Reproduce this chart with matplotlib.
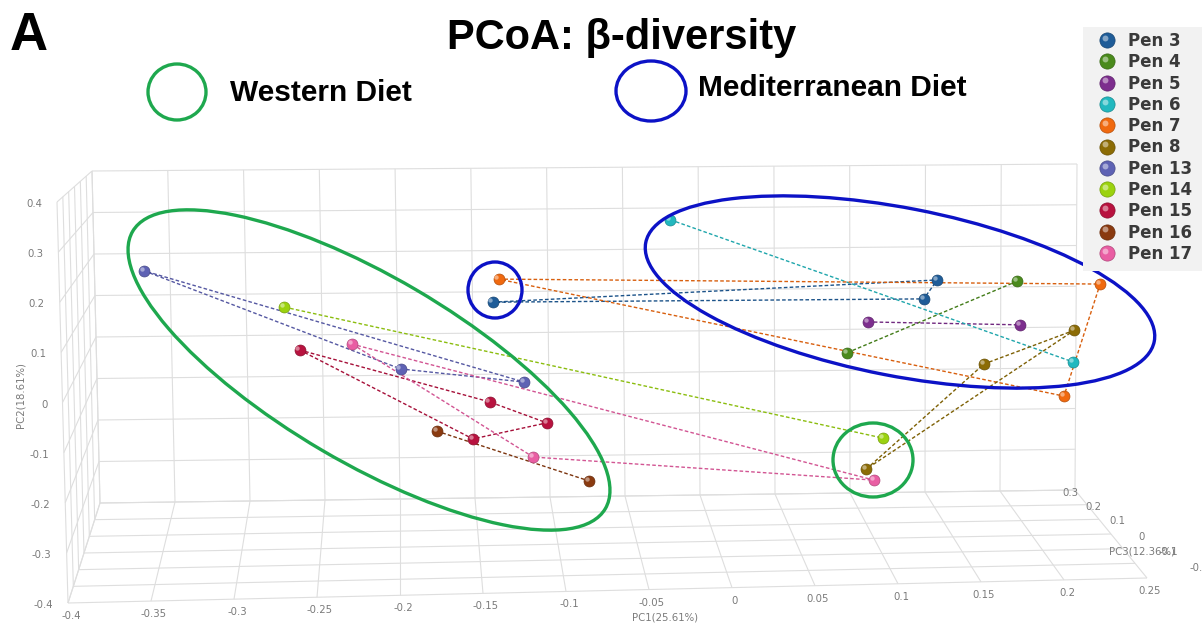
import numpy as np
import matplotlib
matplotlib.use("Agg")
import matplotlib.pyplot as plt
import matplotlib.colors as mcolors
from matplotlib.patches import Ellipse, Rectangle
from matplotlib.transforms import Affine2D, ScaledTranslation

W, H = 1202, 627

# ---- data -------------------------------------------------------------
pen_names = ["Pen 3", "Pen 4", "Pen 5", "Pen 6", "Pen 7", "Pen 8",
             "Pen 13", "Pen 14", "Pen 15", "Pen 16", "Pen 17"]
pen_colors = ["#1f5c98", "#4a8a1c", "#7d2e8e", "#22b8bf", "#f0690f", "#8c6c05",
              "#5e62b4", "#9bd20f", "#b8123f", "#8a3a10", "#e95ea3"]

# one entry per sample (order inside a pen = path order)
sample_pen = ["Pen 3", "Pen 3", "Pen 3",
              "Pen 4", "Pen 4",
              "Pen 5", "Pen 5",
              "Pen 6", "Pen 6",
              "Pen 7", "Pen 7", "Pen 7",
              "Pen 8", "Pen 8", "Pen 8",
              "Pen 13", "Pen 13", "Pen 13",
              "Pen 14", "Pen 14",
              "Pen 15", "Pen 15", "Pen 15", "Pen 15",
              "Pen 16", "Pen 16",
              "Pen 17", "Pen 17", "Pen 17"]
sample_pc1 = [-0.137, 0.158, 0.149,
              0.211, 0.098,
              0.112, 0.213,
              -0.019, 0.248,
              -0.133, 0.266, 0.242,
              0.249, 0.189, 0.111,
              -0.368, -0.198, -0.116,
              -0.275, 0.122,
              -0.265, -0.139, -0.101, -0.150,
              -0.174, -0.073,
              -0.230, -0.110, 0.116]
sample_pc2 = [0.073, 0.127, 0.081,
              0.124, -0.050,
              0.025, 0.018,
              0.273, -0.072,
              0.129, 0.117, -0.155,
              0.005, -0.077, -0.332,
              0.149, -0.089, -0.121,
              0.061, -0.257,
              -0.043, -0.169, -0.220, -0.259,
              -0.240, -0.361,
              -0.029, -0.303, -0.359]

pc1_ticks = [-0.4, -0.35, -0.3, -0.25, -0.2, -0.15, -0.1, -0.05, 0, 0.05, 0.1, 0.15, 0.2, 0.25]
pc1_labels = ["-0.4", "-0.35", "-0.3", "-0.25", "-0.2", "-0.15", "-0.1", "-0.05",
              "0", "0.05", "0.1", "0.15", "0.2", "0.25"]
pc2_ticks = [0.4, 0.3, 0.2, 0.1, 0, -0.1, -0.2, -0.3, -0.4]
pc2_labels = ["0.4", "0.3", "0.2", "0.1", "0", "-0.1", "-0.2", "-0.3", "-0.4"]
pc3_ticks = [0.3, 0.2, 0.1, 0, -0.1, -0.2, -0.3]
pc3_labels = ["0.3", "0.2", "0.1", "0", "-0.1", "-0.2", "-0.3"]

PC1_RANGE = (-0.4, 0.25)
PC2_RANGE = (-0.4, 0.4)
PC3_RANGE = (0.3, -0.3)      # back -> front

# ---- figure / coordinate systems ---------------------------------------
fig = plt.figure(figsize=(W / 100, H / 100), dpi=100)
fig.patch.set_facecolor("white")
ax = fig.add_axes([0, 0, 1, 1])
ax.axis("off")

# the data axes are aligned with the back wall of the box
BX0, BX1 = 96.0, 1076.0     # pixel x of PC1 -0.4 / 0.25 on back wall
BY0, BY1 = 497.0, 167.5     # pixel y of PC2 -0.4 / 0.4 on back wall
sx = (BX1 - BX0) / (PC1_RANGE[1] - PC1_RANGE[0])
sy = (BY0 - BY1) / (PC2_RANGE[1] - PC2_RANGE[0])
ax.set_xlim(PC1_RANGE[0] - BX0 / sx, PC1_RANGE[0] + (W - BX0) / sx)
ax.set_ylim(PC2_RANGE[0] - (H - BY0) / sy, PC2_RANGE[0] + BY0 / sy)

# pixel-space transform for the box, annotations and legend (y downwards)
PX = Affine2D().scale(1.0 / W, -1.0 / H).translate(0, 1) + fig.transFigure

# box corners in pixel space (B/F = back/front, L/R, B/T = bottom/top)
BLB = np.array([100.0, 503.0]); BLT = np.array([92.0, 171.0])
BRB = np.array([1075.0, 490.0]); BRT = np.array([1077.0, 164.0])
FLB = np.array([68.0, 603.0]); FLT = np.array([57.0, 202.0])
FRB = np.array([1147.0, 578.0])


def bilinear(c00, c10, c01, c11, u, v):
    return (1 - u) * (1 - v) * c00 + u * (1 - v) * c10 + (1 - u) * v * c01 + u * v * c11


def frac(val, rng):
    return (val - rng[0]) / (rng[1] - rng[0])


GRID = "#dedede"
GLW = 0.8


def seg(p, q, **kw):
    ax.plot([p[0], q[0]], [p[1], q[1]], transform=PX, color=GRID, lw=GLW,
            solid_capstyle="butt", zorder=1, **kw)


# back wall
for t in pc1_ticks:
    u = frac(t, PC1_RANGE)
    seg(bilinear(BLB, BRB, BLT, BRT, u, 0), bilinear(BLB, BRB, BLT, BRT, u, 1))
for t in pc2_ticks:
    v = frac(t, PC2_RANGE)
    seg(bilinear(BLB, BRB, BLT, BRT, 0, v), bilinear(BLB, BRB, BLT, BRT, 1, v))
# floor
for t in pc1_ticks:
    u = frac(t, PC1_RANGE)
    seg(bilinear(BLB, BRB, FLB, FRB, u, 0), bilinear(BLB, BRB, FLB, FRB, u, 1))
for t in pc3_ticks:
    w = frac(t, PC3_RANGE)
    seg(bilinear(BLB, BRB, FLB, FRB, 0, w), bilinear(BLB, BRB, FLB, FRB, 1, w))
# left wall
for t in pc2_ticks:
    v = frac(t, PC2_RANGE)
    seg(bilinear(BLB, BLT, FLB, FLT, v, 0), bilinear(BLB, BLT, FLB, FLT, v, 1))
for t in pc3_ticks:
    w = frac(t, PC3_RANGE)
    seg(bilinear(BLB, BLT, FLB, FLT, 0, w), bilinear(BLB, BLT, FLB, FLT, 1, w))

# ---- axis tick labels ---------------------------------------------------
TICK = dict(transform=PX, fontsize=7.3, color="#7a7a7a", family="DejaVu Sans", zorder=2)
for t, lab in zip(pc2_ticks, pc2_labels):
    p = bilinear(BLB, BLT, FLB, FLT, frac(t, PC2_RANGE), 1)
    ax.text(p[0] - 15, p[1] + 2, lab, ha="right", va="center", **TICK)
for t, lab in zip(pc1_ticks, pc1_labels):
    p = bilinear(BLB, BRB, FLB, FRB, frac(t, PC1_RANGE), 1)
    ax.text(p[0] + 3, p[1] + 13, lab, ha="center", va="center", **TICK)
# PC3 labels run along the receding right edge of the floor
pc3_label_x = [1070, 1093, 1117, 1142, 1168, 1199, 1230]
pc3_label_y = [493, 507, 521, 537, 552, 568, 584]
for lx, ly, lab in zip(pc3_label_x, pc3_label_y, pc3_labels):
    if lx < W:
        ax.text(lx, ly, lab, ha="center", va="center", **TICK)
ax.text(665, 617, "PC1(25.61%)", ha="center", va="center", **TICK)
ax.text(20, 395, "PC2(18.61%)", ha="center", va="center", rotation=90, **TICK)
ax.text(1142, 551, "PC3(12.36%)", ha="center", va="center", **TICK)

# ---- samples ------------------------------------------------------------
pen_arr = np.array(sample_pen)
x_all = np.array(sample_pc1)
y_all = np.array(sample_pc2)
hl = ScaledTranslation(-1.6 / 72, 1.6 / 72, fig.dpi_scale_trans)


def lighten(c, f):
    r, g, b = mcolors.to_rgb(c)
    return (r + (1 - r) * f, g + (1 - g) * f, b + (1 - b) * f)


def darken(c, f):
    r, g, b = mcolors.to_rgb(c)
    return (r * (1 - f), g * (1 - f), b * (1 - f))


for name, col in zip(pen_names, pen_colors):
    m = pen_arr == name
    xs, ys = x_all[m], y_all[m]
    if len(xs) > 2:
        xs_l, ys_l = np.append(xs, xs[0]), np.append(ys, ys[0])
    else:
        xs_l, ys_l = xs, ys
    ax.plot(xs_l, ys_l, color=darken(col, 0.1), lw=1.0, dashes=(2.6, 1.6), zorder=3)

for name, col in zip(pen_names, pen_colors):
    m = pen_arr == name
    xs, ys = x_all[m], y_all[m]
    ax.scatter(xs, ys, s=62, color=col, edgecolors=darken(col, 0.25), linewidths=0.5, zorder=4)
    ax.scatter(xs, ys, s=10, color=lighten(col, 0.45), linewidths=0, zorder=5,
               transform=ax.transData + hl)

# ---- group outlines -----------------------------------------------------
GREEN = "#1ea84e"
BLUE = "#0c12c6"
ELW = 2.4
for (cx, cy, w, h, ang, col) in [
        (369, 370, 2 * 274, 2 * 93, 30.4, GREEN),
        (900, 292, 2 * 259, 2 * 84, 11.0, BLUE),
        (495, 290, 54, 56, 0, BLUE),
        (873, 460, 80, 74, 0, GREEN),
        (177, 92, 58, 56, 0, GREEN),
        (651, 91, 70, 60, 0, BLUE)]:
    ax.add_patch(Ellipse((cx, cy), w, h, angle=ang, fill=False, edgecolor=col, lw=ELW,
                         transform=PX, zorder=6))

# ---- titles -------------------------------------------------------------
SANS = ["Liberation Sans", "DejaVu Sans"]
ax.text(10, 50, "A", transform=PX, fontsize=38, fontweight="bold", family=SANS,
        ha="left", va="baseline")
ax.text(622, 49, "PCoA: β-diversity", transform=PX, fontsize=30, fontweight="bold",
        family=SANS, ha="center", va="baseline")
ax.text(230, 101, "Western Diet", transform=PX, fontsize=21.5, fontweight="bold",
        family=SANS, ha="left", va="baseline")
ax.text(698, 96, "Mediterranean Diet", transform=PX, fontsize=21.5, fontweight="bold",
        family=SANS, ha="left", va="baseline")

# ---- pen legend ---------------------------------------------------------
ax.add_patch(Rectangle((1083, 27), 125, 244, transform=PX, facecolor="#f2f2f2",
                       edgecolor="none", zorder=7))
for i, (name, col) in enumerate(zip(pen_names, pen_colors)):
    yy = 40 + i * 21.3
    ax.scatter([1107], [yy], s=120, color=col, edgecolors=darken(col, 0.25), linewidths=0.5,
               transform=PX, zorder=8)
    ax.scatter([1107], [yy], s=18, color=lighten(col, 0.45), linewidths=0,
               transform=PX + hl, zorder=9)
    ax.text(1128, yy + 1, name, transform=PX, fontsize=12, fontweight="bold",
            family="DejaVu Sans", color="#3a3a3a", ha="left", va="center", zorder=9)

fig.savefig("out.png", dpi=100, facecolor="white")
